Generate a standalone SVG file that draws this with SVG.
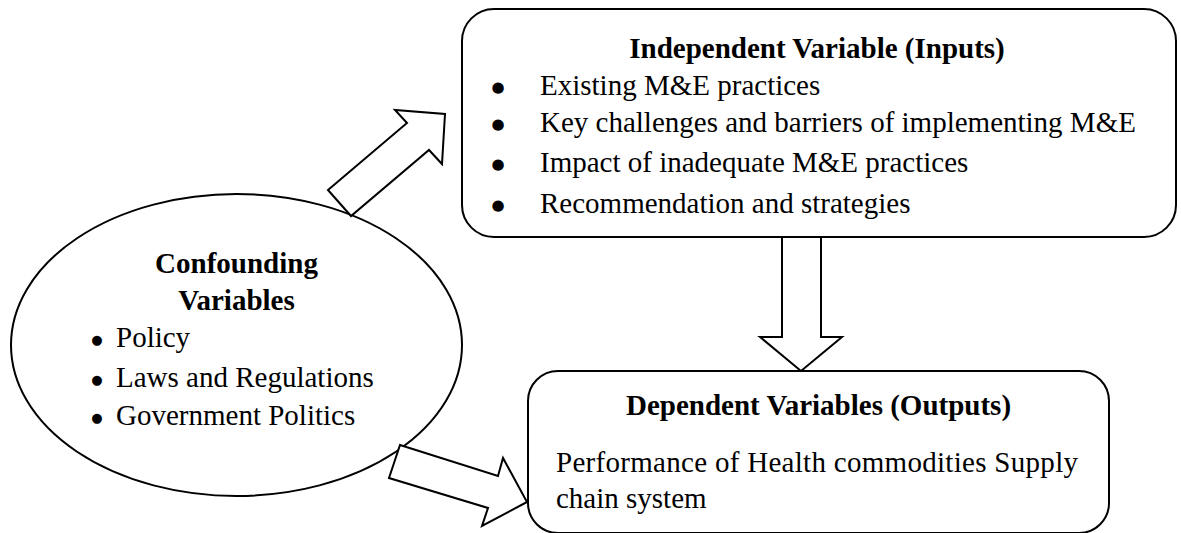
<svg xmlns="http://www.w3.org/2000/svg" width="1181" height="533" viewBox="0 0 1181 533">
<style>
.shape{fill:#fff;stroke:#000;stroke-width:2}
.arrow{fill:#fff;stroke:#000;stroke-width:2;stroke-linejoin:miter}
.t{font-family:"Liberation Serif","Times New Roman",serif;font-size:29px;fill:#000}
.b{font-weight:bold}
.m{text-anchor:middle}
.d{font-family:"DejaVu Sans",sans-serif;font-size:15px;fill:#000;text-anchor:middle}
.s{font-size:13px}
</style>
<rect width="1181" height="533" fill="#fff"/>
<g id="confounding">
<ellipse class="shape" cx="236.5" cy="345" rx="225.5" ry="151"/>
<text class="t b m" x="236.5" y="273">Confounding</text>
<text class="t b m" x="236.5" y="310">Variables</text>
<text class="d s" x="97" y="344">●</text><text class="t" x="116" y="347">Policy</text>
<text class="d s" x="97" y="384">●</text><text class="t" x="116" y="387">Laws and Regulations</text>
<text class="d s" x="97" y="422">●</text><text class="t" x="116" y="425">Government Politics</text>
</g>
<g id="independent">
<rect class="shape" x="462" y="9" width="714" height="228" rx="32" ry="32"/>
<text class="t b m" x="817" y="58">Independent Variable (Inputs)</text>
<text class="d" x="498" y="92">●</text><text class="t" x="540" y="95">Existing M&amp;E practices</text>
<text class="d" x="498" y="129">●</text><text class="t" x="540" y="132">Key challenges and barriers of implementing M&amp;E</text>
<text class="d" x="498" y="169">●</text><text class="t" x="540" y="172">Impact of inadequate M&amp;E practices</text>
<text class="d" x="498" y="210">●</text><text class="t" x="540" y="213">Recommendation and strategies</text>
</g>
<g id="dependent">
<rect class="shape" x="528" y="371" width="581" height="162" rx="30" ry="30"/>
<text class="t b m" x="818.5" y="415">Dependent Variables (Outputs)</text>
<text class="t" x="556" y="472" textLength="522" lengthAdjust="spacing">Performance of Health commodities Supply</text>
<text class="t" x="556" y="508">chain system</text>
</g>
<g id="connectors">
<polygon class="arrow" points="328,190 407,123 395,110 445,114 442,164 429,150 351,216"/>
<polygon class="arrow" points="782,237 821,237 821,337 842,337 801,371 760,337 782,337"/>
<polygon class="arrow" points="400,445 498,476 503,458 527,502 482,526 488,508 389,478"/>
</g>
</svg>
